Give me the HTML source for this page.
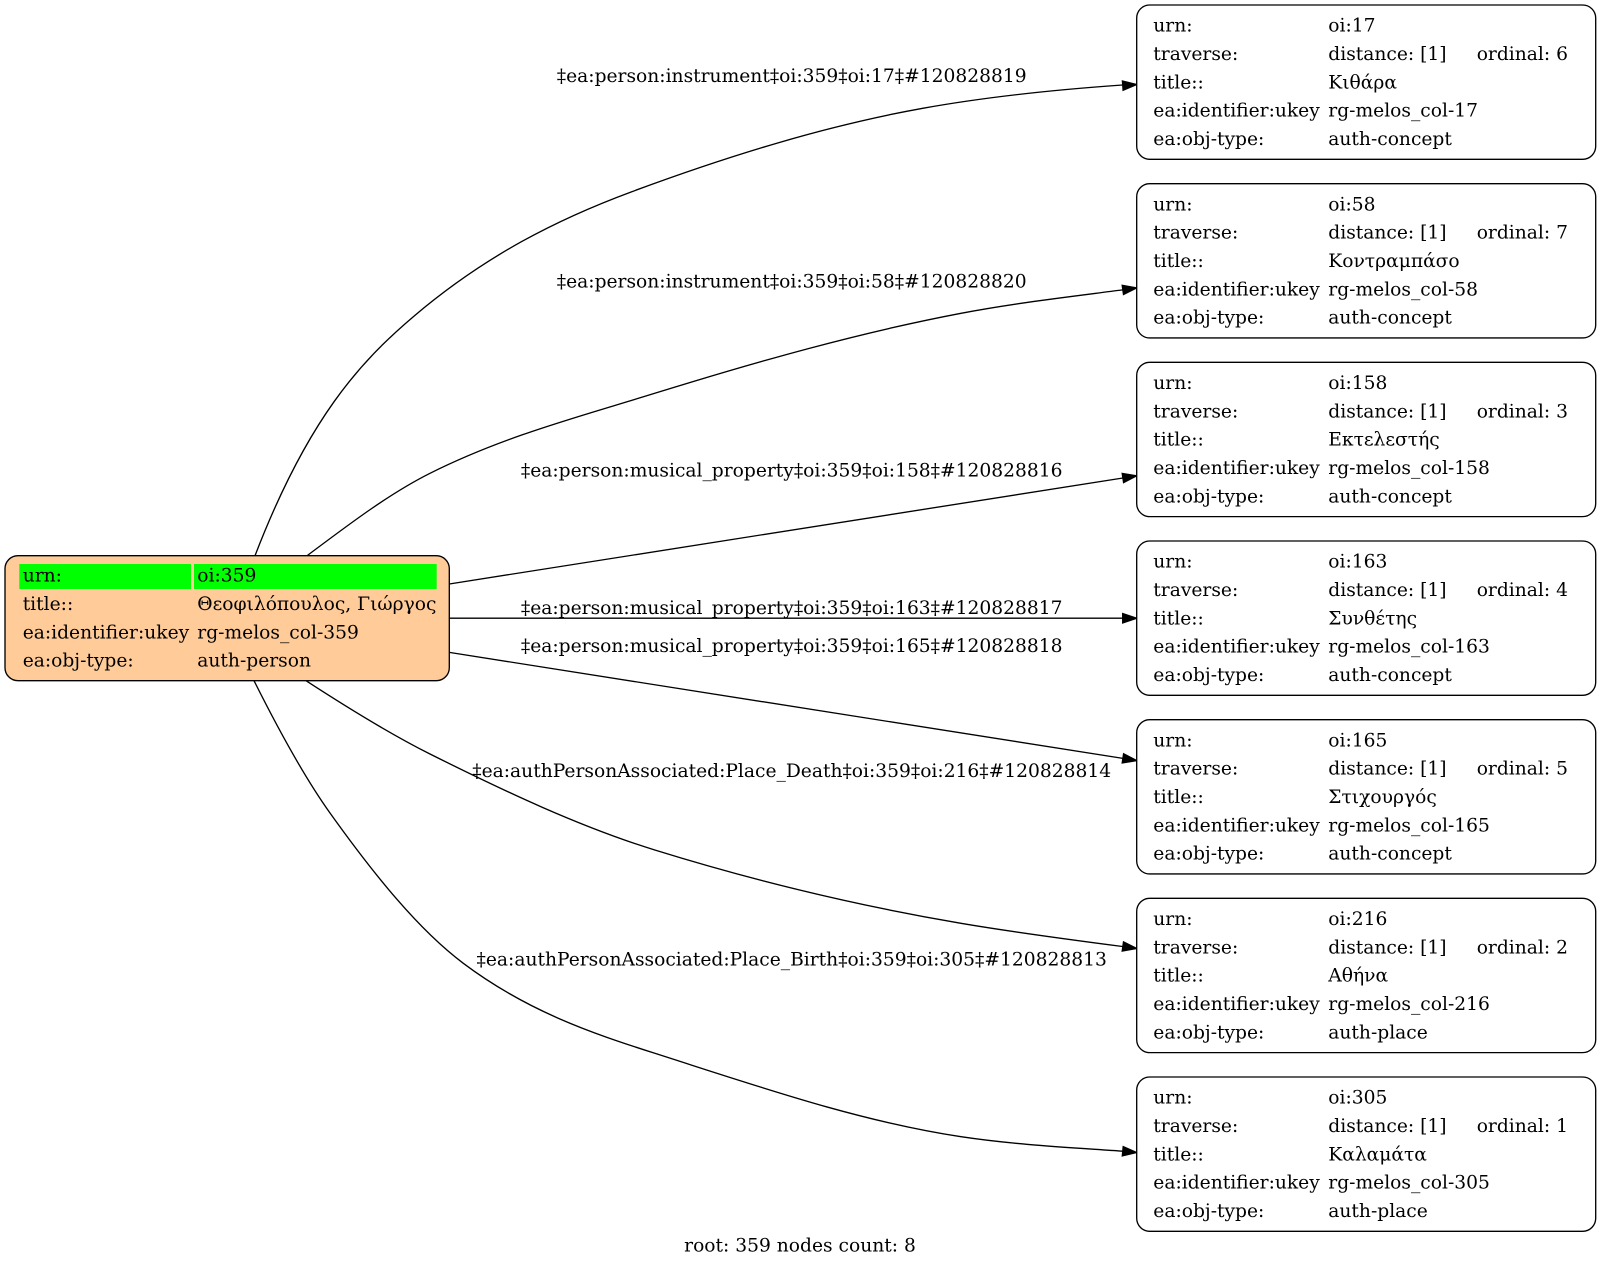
<!DOCTYPE html>
<html>
<head>
<meta charset="utf-8">
<style>
  html,body{margin:0;padding:0;background:#fff;}
  svg{display:block;}
  text{font-family:"DejaVu Serif","Liberation Serif",serif;font-size:18.67px;fill:#000;}
</style>
</head>
<body>
<svg width="1601" height="1268" viewBox="0 0 1601 1268" xmlns="http://www.w3.org/2000/svg">
  <rect x="0" y="0" width="1601" height="1268" fill="#fff"/>

  <!-- Edges -->
  <g fill="none" stroke="#000" stroke-width="1.33">
    <path d="M255,555.7 C307.8,418.5 360.5,361.55 413.3,316.7 C486.1,254.8 558.97,218.65 631.8,191.7 C728.77,155.82 825.73,125.75 922.7,108.3 C989.3,96.3 1055.9,89.66 1122.5,85"/>
    <path d="M306.7,556 C347.8,525.2 388.9,493.85 430,473.3 C504.93,435.83 579.87,416.53 654.8,393.3 C756.87,361.66 858.93,332.69 961,313.3 C1014.83,303.07 1068.67,296.9 1122.5,289.9"/>
    <path d="M449.3,584 L1122.9,478"/>
    <path d="M449.3,618.2 L1122.7,618.2"/>
    <path d="M449.3,652.4 L1122.9,758.4"/>
    <path d="M306,680.7 C347.33,707.57 388.67,733.33 430,754 C504.93,791.47 579.87,826.77 654.8,850 C756.87,881.64 858.93,905.95 961,923.3 C1014.83,932.45 1068.67,939.5 1122.5,946.5"/>
    <path d="M254,680.7 C279.33,731.37 304.67,777.53 330,813 C374.43,875.2 418.87,929.98 463.3,963.3 C527.13,1011.17 590.97,1032.87 654.8,1053.3 C756.87,1085.96 858.93,1121.39 961,1136.7 C1014.9,1144.79 1068.8,1147.43 1122.7,1151.2"/>
  </g>

  <!-- Arrowheads -->
  <g fill="#000" stroke="#000" stroke-width="1.33">
    <polygon points="1136.7,84.5 1123.1,90.3 1122.4,81"/>
    <polygon points="1136.7,287.9 1123.5,294.5 1122.2,285.3"/>
    <polygon points="1136.7,475.8 1123.6,482.6 1122.2,473.4"/>
    <polygon points="1136.7,618.2 1122.7,622.9 1122.7,613.5"/>
    <polygon points="1136.7,760.6 1122.2,763 1123.6,753.8"/>
    <polygon points="1136.7,948.5 1122.2,951.1 1123.5,941.9"/>
    <polygon points="1136.7,1152.5 1122.3,1155.85 1123.2,1146.55"/>
  </g>

  <!-- Edge labels -->
  <g text-anchor="middle">
    <text x="791.7" y="82">‡ea:person:instrument‡oi:359‡oi:17‡#120828819</text>
    <text x="791.7" y="287.5">‡ea:person:instrument‡oi:359‡oi:58‡#120828820</text>
    <text x="791.7" y="476.5">‡ea:person:musical_property‡oi:359‡oi:158‡#120828816</text>
    <text x="791.7" y="614">‡ea:person:musical_property‡oi:359‡oi:163‡#120828817</text>
    <text x="791.7" y="652">‡ea:person:musical_property‡oi:359‡oi:165‡#120828818</text>
    <text x="791.7" y="777">‡ea:authPersonAssociated:Place_Death‡oi:359‡oi:216‡#120828814</text>
    <text x="791.7" y="965.5">‡ea:authPersonAssociated:Place_Birth‡oi:359‡oi:305‡#120828813</text>
  </g>

  <!-- Left (root) node -->
  <rect x="5" y="555.7" width="444.3" height="125" rx="13" ry="13" fill="#ffcc99" stroke="#000" stroke-width="1.33"/>
  <rect x="19.3" y="564" width="171.7" height="25" fill="#00ff00"/>
  <rect x="194" y="564" width="242.7" height="25" fill="#00ff00"/>
  <text x="22.7" y="581.7">urn:</text>
  <text x="197.3" y="581.7">oi:359</text>
  <text x="22.7" y="610">title::</text>
  <text x="197.3" y="610">Θεοφιλόπουλος, Γιώργος</text>
  <text x="22.7" y="638.3">ea:identifier:ukey</text>
  <text x="197.3" y="638.3">rg-melos_col-359</text>
  <text x="22.7" y="666.7">ea:obj-type:</text>
  <text x="197.3" y="666.7">auth-person</text>

  <!-- Right nodes -->
  <g>
    <rect x="1136.7" y="5" width="459" height="154.3" rx="13" ry="13" fill="#fff" stroke="#000" stroke-width="1.33"/>
    <text x="1153.3" y="31.7">urn:</text><text x="1328.3" y="31.7">oi:17</text>
    <text x="1153.3" y="60">traverse:</text><text x="1328.3" y="60">distance: [1]</text><text x="1476.7" y="60">ordinal: 6</text>
    <text x="1153.3" y="88.3">title::</text><text x="1328.3" y="88.3">Κιθάρα</text>
    <text x="1153.3" y="116.7">ea:identifier:ukey</text><text x="1328.3" y="116.7">rg-melos_col-17</text>
    <text x="1153.3" y="145">ea:obj-type:</text><text x="1328.3" y="145">auth-concept</text>
  </g>
  <g transform="translate(0,178.67)">
    <rect x="1136.7" y="5" width="459" height="154.3" rx="13" ry="13" fill="#fff" stroke="#000" stroke-width="1.33"/>
    <text x="1153.3" y="31.7">urn:</text><text x="1328.3" y="31.7">oi:58</text>
    <text x="1153.3" y="60">traverse:</text><text x="1328.3" y="60">distance: [1]</text><text x="1476.7" y="60">ordinal: 7</text>
    <text x="1153.3" y="88.3">title::</text><text x="1328.3" y="88.3">Κοντραμπάσο</text>
    <text x="1153.3" y="116.7">ea:identifier:ukey</text><text x="1328.3" y="116.7">rg-melos_col-58</text>
    <text x="1153.3" y="145">ea:obj-type:</text><text x="1328.3" y="145">auth-concept</text>
  </g>
  <g transform="translate(0,357.33)">
    <rect x="1136.7" y="5" width="459" height="154.3" rx="13" ry="13" fill="#fff" stroke="#000" stroke-width="1.33"/>
    <text x="1153.3" y="31.7">urn:</text><text x="1328.3" y="31.7">oi:158</text>
    <text x="1153.3" y="60">traverse:</text><text x="1328.3" y="60">distance: [1]</text><text x="1476.7" y="60">ordinal: 3</text>
    <text x="1153.3" y="88.3">title::</text><text x="1328.3" y="88.3">Εκτελεστής</text>
    <text x="1153.3" y="116.7">ea:identifier:ukey</text><text x="1328.3" y="116.7">rg-melos_col-158</text>
    <text x="1153.3" y="145">ea:obj-type:</text><text x="1328.3" y="145">auth-concept</text>
  </g>
  <g transform="translate(0,536)">
    <rect x="1136.7" y="5" width="459" height="154.3" rx="13" ry="13" fill="#fff" stroke="#000" stroke-width="1.33"/>
    <text x="1153.3" y="31.7">urn:</text><text x="1328.3" y="31.7">oi:163</text>
    <text x="1153.3" y="60">traverse:</text><text x="1328.3" y="60">distance: [1]</text><text x="1476.7" y="60">ordinal: 4</text>
    <text x="1153.3" y="88.3">title::</text><text x="1328.3" y="88.3">Συνθέτης</text>
    <text x="1153.3" y="116.7">ea:identifier:ukey</text><text x="1328.3" y="116.7">rg-melos_col-163</text>
    <text x="1153.3" y="145">ea:obj-type:</text><text x="1328.3" y="145">auth-concept</text>
  </g>
  <g transform="translate(0,714.67)">
    <rect x="1136.7" y="5" width="459" height="154.3" rx="13" ry="13" fill="#fff" stroke="#000" stroke-width="1.33"/>
    <text x="1153.3" y="31.7">urn:</text><text x="1328.3" y="31.7">oi:165</text>
    <text x="1153.3" y="60">traverse:</text><text x="1328.3" y="60">distance: [1]</text><text x="1476.7" y="60">ordinal: 5</text>
    <text x="1153.3" y="88.3">title::</text><text x="1328.3" y="88.3">Στιχουργός</text>
    <text x="1153.3" y="116.7">ea:identifier:ukey</text><text x="1328.3" y="116.7">rg-melos_col-165</text>
    <text x="1153.3" y="145">ea:obj-type:</text><text x="1328.3" y="145">auth-concept</text>
  </g>
  <g transform="translate(0,893.33)">
    <rect x="1136.7" y="5" width="459" height="154.3" rx="13" ry="13" fill="#fff" stroke="#000" stroke-width="1.33"/>
    <text x="1153.3" y="31.7">urn:</text><text x="1328.3" y="31.7">oi:216</text>
    <text x="1153.3" y="60">traverse:</text><text x="1328.3" y="60">distance: [1]</text><text x="1476.7" y="60">ordinal: 2</text>
    <text x="1153.3" y="88.3">title::</text><text x="1328.3" y="88.3">Αθήνα</text>
    <text x="1153.3" y="116.7">ea:identifier:ukey</text><text x="1328.3" y="116.7">rg-melos_col-216</text>
    <text x="1153.3" y="145">ea:obj-type:</text><text x="1328.3" y="145">auth-place</text>
  </g>
  <g transform="translate(0,1072)">
    <rect x="1136.7" y="5" width="459" height="154.3" rx="13" ry="13" fill="#fff" stroke="#000" stroke-width="1.33"/>
    <text x="1153.3" y="31.7">urn:</text><text x="1328.3" y="31.7">oi:305</text>
    <text x="1153.3" y="60">traverse:</text><text x="1328.3" y="60">distance: [1]</text><text x="1476.7" y="60">ordinal: 1</text>
    <text x="1153.3" y="88.3">title::</text><text x="1328.3" y="88.3">Καλαμάτα</text>
    <text x="1153.3" y="116.7">ea:identifier:ukey</text><text x="1328.3" y="116.7">rg-melos_col-305</text>
    <text x="1153.3" y="145">ea:obj-type:</text><text x="1328.3" y="145">auth-place</text>
  </g>

  <!-- Footer -->
  <text x="800" y="1251.7" text-anchor="middle">root: 359 nodes count: 8</text>
</svg>
</body>
</html>
